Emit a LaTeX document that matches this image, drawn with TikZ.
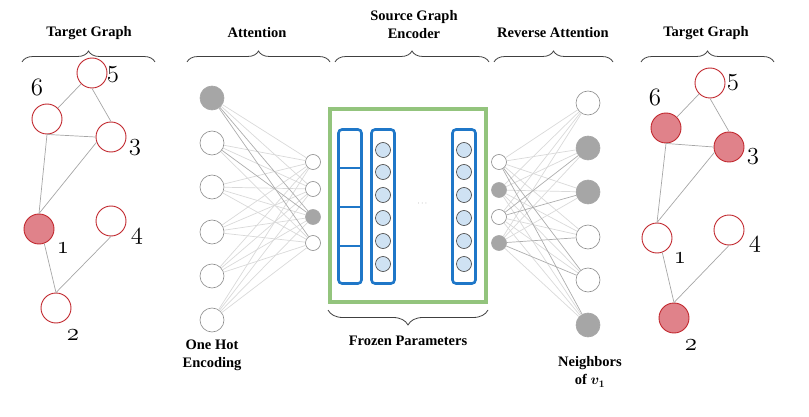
\documentclass[tikz,border=0pt]{standalone}
\usepackage{amsmath}
\usepackage{bm}
\usepackage{fontspec}
\newfontfamily\headfont{Liberation Serif}
\newcommand{\osn}[1]{$\mathnormal{#1}$}
\usetikzlibrary{decorations.pathreplacing}
\definecolor{vred}{HTML}{C1272D}
\definecolor{vpink}{HTML}{E0828A}
\definecolor{dotgray}{HTML}{A6A6A6}
\definecolor{frzgreen}{HTML}{93C47D}
\definecolor{encblue}{HTML}{1F77C8}
\definecolor{cellblue}{HTML}{CFE2F3}
\tikzstyle{vtx} = [circle, draw=vred, line width=0.9pt, fill=white, minimum size=30pt, inner sep=0pt]
\tikzstyle{hit} = [vtx, fill=vpink]
\tikzstyle{num} = [font=\fontsize{24}{24}\selectfont, inner sep=0pt]
\tikzstyle{gline} = [gray!70, line width=0.7pt]
\tikzstyle{unit} = [circle, draw=gray!90, line width=0.6pt, fill=white, minimum size=24pt, inner sep=0pt]
\tikzstyle{uniton} = [unit, fill=dotgray, draw=dotgray]
\tikzstyle{att} = [unit, minimum size=15pt]
\tikzstyle{atton} = [att, fill=dotgray, draw=dotgray]
\tikzstyle{cell} = [circle, draw=black!75, line width=0.6pt, fill=cellblue, minimum size=15pt, inner sep=0pt]
\tikzstyle{layer} = [draw=encblue, line width=2.6pt, rounded corners=3.5pt, minimum width=23pt, minimum height=154pt]
\tikzstyle{wire} = [black!15, line width=0.7pt]
\tikzstyle{wirestrong} = [black!32, line width=0.7pt]
\tikzstyle{brace} = [decorate, decoration={brace, amplitude=11pt}, black!75, line width=0.8pt]
\tikzstyle{head} = [font=\headfont\fontsize{14.5}{18}\selectfont\bfseries, align=center, inner sep=0pt]

\begin{document}
\begin{tikzpicture}[x=1pt, y=-1pt]
    \useasboundingbox (0,0) rectangle (809,417);

    % target graph, before
    \node (l5) [vtx] at (92,73) {};
    \node (l6) [vtx] at (47,119) {};
    \node (l3) [vtx] at (111,137) {};
    \node (l1) [hit] at (39,229) {};
    \node (l4) [vtx] at (111,221) {};
    \node (l2) [vtx] at (56,308) {};
    \node (l5n) [num] at (113,75) {\osn{5}};
    \node (l6n) [num] at (37,87) {\osn{6}};
    \node (l3n) [num] at (135,148) {\osn{3}};
    \node (l1n) [num] at (63,248) {\osn{1}};
    \node (l4n) [num] at (137,237) {\osn{4}};
    \node (l2n) [num] at (73,335) {\osn{2}};
    \path[gline] (l5.225) edge (l6.45) (l5.south) edge (l3.north)
        (l6.south) edge (l3.west) edge (l1.north)
        (l3.200) edge (l1.north)
        (l1.290) edge (l2.north) (l4.south) edge (l2.north);

    % attention
    \node (oh1) [uniton] at (212,98) {};
    \node (oh2) [unit] at (212,143) {};
    \node (oh3) [unit] at (212,187) {};
    \node (oh4) [unit] at (212,232) {};
    \node (oh5) [unit] at (212,276) {};
    \node (oh6) [unit] at (212,320) {};
    \node (a1) [att] at (313,162) {};
    \node (a2) [att] at (313,189) {};
    \node (a3) [atton] at (313,217) {};
    \node (a4) [att] at (313,243) {};
    \path[wire]
        (oh1) edge (a1) edge (a2)
        (oh2) edge (a1) edge (a2) edge (a4)
        (oh3) edge (a1) edge (a2) edge (a3) edge (a4)
        (oh4) edge (a1) edge (a2) edge (a3) edge (a4)
        (oh5) edge (a1) edge (a2) edge (a3) edge (a4)
        (oh6) edge (a1) edge (a2) edge (a3) edge (a4);
    \path[wirestrong] (oh1) edge (a3) edge (a4) (oh2) edge (a3);

    % frozen source encoder
    \node (frozen) [draw=frzgreen, line width=4pt, minimum width=156pt, minimum height=193pt] at (408,205.5) {};
    \node (emb) [layer] at (350,206.5) {};
    \draw[encblue, line width=1.8pt] (338.5,168) -- (361.5,168) (338.5,207) -- (361.5,207) (338.5,246) -- (361.5,246);
    \node (hid) [layer] at (383,206.5) {};
    \node (out) [layer] at (464,206.5) {};
    \node (h1) [cell] at (383,150) {};
    \node (h2) [cell] at (383,172) {};
    \node (h3) [cell] at (383,195) {};
    \node (h4) [cell] at (383,218) {};
    \node (h5) [cell] at (383,241) {};
    \node (h6) [cell] at (383,264) {};
    \node (o1) [cell] at (464,150) {};
    \node (o2) [cell] at (464,172) {};
    \node (o3) [cell] at (464,195) {};
    \node (o4) [cell] at (464,218) {};
    \node (o5) [cell] at (464,241) {};
    \node (o6) [cell] at (464,264) {};
    \node (dots) [text=black!50, inner sep=0pt] at (423,204) {\footnotesize$\cdots$};

    % reverse attention
    \node (r1) [att] at (499,162) {};
    \node (r2) [atton] at (499,190) {};
    \node (r3) [att] at (499,217) {};
    \node (r4) [atton] at (499,243) {};
    \node (nb1) [unit] at (588,103) {};
    \node (nb2) [uniton] at (588,148) {};
    \node (nb3) [uniton] at (588,192) {};
    \node (nb4) [unit] at (588,237) {};
    \node (nb5) [unit] at (588,280) {};
    \node (nb6) [uniton] at (588,325) {};
    \path[wire]
        (r1) edge (nb1) edge (nb2) edge (nb3) edge (nb4)
        (r2) edge (nb1) edge (nb2) edge (nb3) edge (nb4) edge (nb5) edge (nb6)
        (r3) edge (nb1) edge (nb4) edge (nb5) edge (nb6)
        (r4) edge (nb1) edge (nb2) edge (nb3) edge (nb6);
    \path[wirestrong] (r1) edge (nb5) edge (nb6)
        (r3) edge (nb2) edge (nb3)
        (r4) edge (nb4) edge (nb5);

    % target graph, after
    \node (g5) [vtx] at (710,83) {};
    \node (g6) [hit] at (666,128) {};
    \node (g3) [hit] at (729,147) {};
    \node (g1) [vtx] at (657,238) {};
    \node (g4) [vtx] at (729,230) {};
    \node (g2) [hit] at (674,318) {};
    \node (g5n) [num] at (733,83) {\osn{5}};
    \node (g6n) [num] at (655,97) {\osn{6}};
    \node (g3n) [num] at (753,157) {\osn{3}};
    \node (g1n) [num] at (680,258) {\osn{1}};
    \node (g4n) [num] at (755,245) {\osn{4}};
    \node (g2n) [num] at (691,345) {\osn{2}};
    \path[gline] (g5.225) edge (g6.45) (g5.south) edge (g3.north)
        (g6.south) edge (g3.west) edge (g1.north)
        (g3.200) edge (g1.north)
        (g1.290) edge (g2.north) (g4.south) edge (g2.north);

    % braces and captions
    \draw[brace] (22,62) -- (155,62);
    \draw[brace] (187,62) -- (330,62);
    \draw[brace] (335,62) -- (489,62);
    \draw[brace] (494,62) -- (613,62);
    \draw[brace] (641,62) -- (774,62);
    \draw[brace, decoration={amplitude=15pt}] (488,310) -- (328,310);
    \node (tgl) [head] at (89,33) {Target Graph};
    \node (attn) [head] at (257,33) {Attention};
    \node (sge) [head] at (414,25) {Source Graph\\Encoder};
    \node (rattn) [head] at (553,33) {Reverse Attention};
    \node (tgr) [head] at (706,33) {Target Graph};
    \node (frz) [head] at (408,341) {Frozen Parameters};
    \node (ohe) [head] at (212,355) {One Hot\\Encoding};
    \node (nbr) [head] at (590,372) {Neighbors\\of $\bm{v}_{\bm{1}}$};
\end{tikzpicture}
\end{document}
